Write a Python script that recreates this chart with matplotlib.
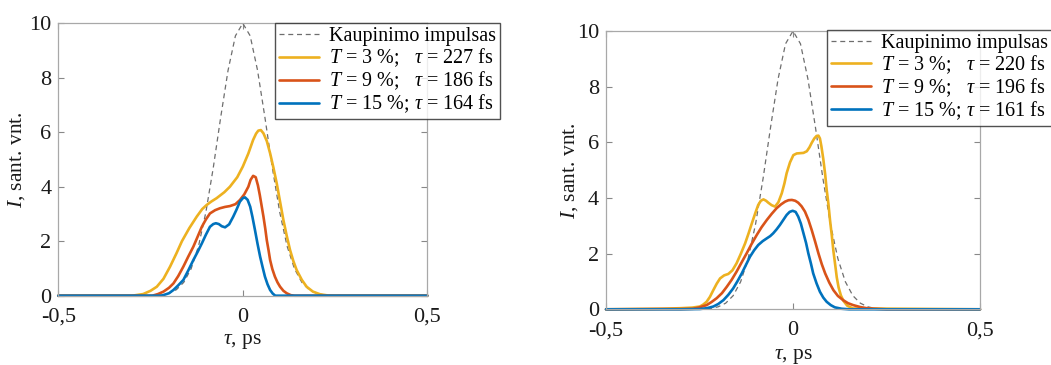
import matplotlib
matplotlib.use("Agg")
import matplotlib.pyplot as plt

plt.rcParams['font.family'] = ['Liberation Serif', 'DejaVu Serif']
plt.rcParams['mathtext.fontset'] = 'custom'
plt.rcParams['mathtext.rm'] = 'Liberation Serif'
plt.rcParams['mathtext.it'] = 'Liberation Serif:italic'

# ---------------- data ----------------
# excitation pulse (same in both panels)
x_exc = [-0.30, -0.24, -0.22, -0.20, -0.18, -0.16, -0.14, -0.12, -0.10, -0.08, -0.06, -0.04, -0.02,
         0.0, 0.02, 0.04, 0.06, 0.08, 0.10, 0.12, 0.14, 0.16, 0.18, 0.20, 0.22, 0.24, 0.30]
y_exc = [0.0, 0.01, 0.03, 0.09, 0.22, 0.49, 0.99, 1.82, 3.07, 4.70, 6.54, 8.27, 9.54,
         10.0, 9.54, 8.27, 6.54, 4.70, 3.07, 1.82, 0.99, 0.49, 0.22, 0.09, 0.03, 0.01, 0.0]

# left panel
xL_3 = [-0.50, -0.30, -0.27, -0.25, -0.233, -0.215, -0.197, -0.18, -0.165, -0.145, -0.125, -0.11,
        -0.098, -0.085, -0.071, -0.05, -0.035, -0.015, 0.0, 0.015, 0.028, 0.036, 0.042, 0.049, 0.056,
        0.065, 0.074, 0.083, 0.092, 0.101, 0.110, 0.119, 0.128, 0.137, 0.146, 0.16, 0.173, 0.19,
        0.21, 0.235, 0.50]
yL_3 = [0.0, 0.0, 0.06, 0.18, 0.33, 0.62, 1.07, 1.55, 2.0, 2.48, 2.90, 3.18,
        3.33, 3.46, 3.58, 3.80, 4.0, 4.35, 4.74, 5.22, 5.72, 5.95, 6.06, 6.08, 5.96,
        5.68, 5.23, 4.70, 4.12, 3.45, 2.78, 2.20, 1.68, 1.27, 0.94, 0.58, 0.33, 0.15,
        0.05, 0.0, 0.0]

xL_9 = [-0.50, -0.245, -0.23, -0.215, -0.20, -0.188, -0.175, -0.161, -0.148, -0.134, -0.122, -0.111,
        -0.10, -0.089, -0.075, -0.062, -0.048, -0.035, -0.02, -0.008, 0.004, 0.015, 0.021, 0.028,
        0.035, 0.041, 0.046, 0.051, 0.056, 0.061, 0.065, 0.070, 0.074, 0.080, 0.087, 0.094, 0.101,
        0.110, 0.119, 0.13, 0.14, 0.50]
yL_9 = [0.0, 0.0, 0.06, 0.15, 0.29, 0.45, 0.72, 1.07, 1.43, 1.80, 2.18, 2.53,
        2.80, 3.02, 3.14, 3.21, 3.26, 3.29, 3.36, 3.51, 3.72, 4.0, 4.25, 4.40,
        4.35, 4.05, 3.70, 3.30, 2.90, 2.45, 2.04, 1.65, 1.31, 0.98, 0.70, 0.49, 0.33,
        0.18, 0.09, 0.02, 0.0, 0.0]

xL_15 = [-0.50, -0.22, -0.20, -0.188, -0.175, -0.161, -0.148, -0.134, -0.122, -0.111, -0.10,
         -0.089, -0.08, -0.073, -0.065, -0.057, -0.048, -0.037, -0.026, -0.017, -0.008, 0.0,
         0.006, 0.013, 0.020, 0.026, 0.033, 0.040, 0.047, 0.054, 0.060, 0.067, 0.074, 0.081,
         0.088, 0.50]
yL_15 = [0.0, 0.0, 0.09, 0.21, 0.38, 0.58, 0.92, 1.31, 1.62, 1.92, 2.24,
         2.53, 2.63, 2.66, 2.63, 2.55, 2.51, 2.62, 2.90, 3.16, 3.45, 3.58,
         3.61, 3.52, 3.27, 2.90, 2.41, 1.90, 1.43, 1.03, 0.70, 0.42, 0.21, 0.08,
         0.0, 0.0]

# right panel
xR_3 = [-0.50, -0.35, -0.30, -0.27, -0.249, -0.24, -0.231, -0.222, -0.213, -0.204, -0.195, -0.184,
        -0.173, -0.162, -0.151, -0.14, -0.128, -0.119, -0.110, -0.101, -0.093, -0.086, -0.079,
        -0.072, -0.066, -0.057, -0.048, -0.039, -0.030, -0.023, -0.017, -0.008, 0.001, 0.010,
        0.019, 0.028, 0.037, 0.044, 0.050, 0.057, 0.063, 0.068, 0.072, 0.076, 0.081, 0.086, 0.090,
        0.095, 0.099, 0.104, 0.108, 0.113, 0.117, 0.122, 0.128, 0.135, 0.145, 0.16, 0.50]
yR_3 = [0.0, 0.02, 0.04, 0.06, 0.10, 0.17, 0.27, 0.45, 0.69, 0.92, 1.11, 1.22,
        1.27, 1.40, 1.65, 1.98, 2.37, 2.72, 3.09, 3.45, 3.75, 3.90, 3.95,
        3.90, 3.83, 3.74, 3.69, 3.85, 4.17, 4.52, 4.89, 5.28, 5.54, 5.60,
        5.61, 5.62, 5.68, 5.82, 5.98, 6.14, 6.23, 6.24, 6.14, 5.85, 5.40, 4.85, 4.30,
        3.75, 3.20, 2.62, 2.10, 1.58, 1.15, 0.78, 0.50, 0.30, 0.13, 0.03, 0.0]

xR_9 = [-0.50, -0.35, -0.30, -0.267, -0.25, -0.231, -0.218, -0.204, -0.19, -0.177, -0.164, -0.151,
        -0.138, -0.124, -0.111, -0.097, -0.084, -0.070, -0.057, -0.044, -0.032, -0.021, -0.012,
        -0.003, 0.006, 0.014, 0.023, 0.032, 0.041, 0.050, 0.059, 0.068, 0.077, 0.086, 0.097,
        0.108, 0.120, 0.134, 0.147, 0.161, 0.18, 0.197, 0.22, 0.25, 0.50]
yR_9 = [0.0, 0.01, 0.01, 0.02, 0.07, 0.15, 0.26, 0.40, 0.58, 0.81, 1.06, 1.35,
        1.67, 2.01, 2.34, 2.67, 2.95, 3.21, 3.43, 3.63, 3.77, 3.87, 3.92,
        3.93, 3.90, 3.83, 3.70, 3.51, 3.22, 2.85, 2.44, 2.01, 1.62, 1.29, 0.96,
        0.69, 0.48, 0.33, 0.22, 0.15, 0.08, 0.04, 0.02, 0.0, 0.0]

xR_15 = [-0.50, -0.30, -0.249, -0.23, -0.213, -0.20, -0.186, -0.173, -0.160, -0.148, -0.137,
         -0.126, -0.115, -0.104, -0.093, -0.081, -0.070, -0.061, -0.053, -0.044, -0.035, -0.026,
         -0.017, -0.009, -0.001, 0.007, 0.014, 0.021, 0.028, 0.035, 0.041, 0.048, 0.054, 0.063,
         0.072, 0.081, 0.090, 0.101, 0.112, 0.13, 0.15, 0.50]
yR_15 = [0.0, 0.0, 0.01, 0.04, 0.10, 0.19, 0.33, 0.52, 0.75, 1.02, 1.29,
         1.59, 1.89, 2.12, 2.31, 2.45, 2.55, 2.63, 2.73, 2.87, 3.03, 3.21,
         3.39, 3.50, 3.54, 3.50, 3.33, 3.08, 2.73, 2.38, 2.01, 1.64, 1.29, 0.93,
         0.63, 0.42, 0.27, 0.15, 0.07, 0.02, 0.0, 0.0]

labels_L = ['Kaupinimo impulsas',
            '$T$ = 3 %;   $\\tau$ = 227 fs',
            '$T$ = 9 %;   $\\tau$ = 186 fs',
            '$T$ = 15 %; $\\tau$ = 164 fs']
labels_R = ['Kaupinimo impulsas',
            '$T$ = 3 %;   $\\tau$ = 220 fs',
            '$T$ = 9 %;   $\\tau$ = 196 fs',
            '$T$ = 15 %; $\\tau$ = 161 fs']

x_ticks = [-0.5, 0.0, 0.5]
x_ticklabels = ['-0,5', '0', '0,5']
y_ticks = [0, 2, 4, 6, 8, 10]

# ---------------- styling ----------------
C_Y = '#EDB120'
C_O = '#D95319'
C_B = '#0072BD'
C_EXC = '#6e6e6e'
SPINE = '#a8a8a8'
LW = 1.9

W, H = 1051, 365
fig = plt.figure(figsize=(W / 100, H / 100), dpi=100)

def make_axes(rect, series, labels, leg_anchor, xlabelpad, ylabelpad):
    ax = fig.add_axes(rect)
    ax.plot(x_exc, y_exc, color=C_EXC, lw=0.9, dashes=(4, 3), label=labels[0])
    for (xs, ys), c, lab in zip(series, [C_Y, C_O, C_B], labels[1:]):
        ax.plot(xs, ys, color=c, lw=LW, label=lab, clip_on=False,
                solid_joinstyle='round', solid_capstyle='round')
    ax.set_xlim(-0.5, 0.5)
    ax.set_ylim(0, 10)
    ax.set_xticks(x_ticks)
    ax.set_xticklabels(x_ticklabels)
    ax.set_yticks(y_ticks)
    for s in ax.spines.values():
        s.set_color(SPINE)
        s.set_linewidth(0.9)
    ax.tick_params(direction='in', length=4, width=0.8, color='#888888',
                   top=True, right=True, labelsize=16, labelcolor='#1a1a1a')
    ax.tick_params(axis='x', pad=8.5)
    ax.tick_params(axis='y', pad=5)
    for t in ax.get_yticklabels():
        t.set_verticalalignment('center_baseline')
    ax.set_xlabel('$\\tau$, ps', fontsize=15.5, color='#1a1a1a', labelpad=xlabelpad)
    ax.set_ylabel('$I$, sant. vnt.', fontsize=15.5, color='#1a1a1a', labelpad=ylabelpad)
    leg = ax.legend(loc='upper left', bbox_to_anchor=leg_anchor, borderaxespad=0,
                    fontsize=14.5, frameon=True, fancybox=False, handlelength=2.0,
                    handletextpad=0.5, labelspacing=0.02, borderpad=0.2)
    leg.get_frame().set_edgecolor('#262626')
    leg.get_frame().set_linewidth(1.0)
    leg.set_clip_on(False)
    return ax

axL = make_axes([58.3 / W, (H - 295.7) / H, 369 / W, 272.4 / H],
                [(xL_3, yL_3), (xL_9, yL_9), (xL_15, yL_15)], labels_L, (0.587, 1.0), 4, 1.5)
axR = make_axes([606 / W, (H - 309.3) / H, 374 / W, 278.3 / H],
                [(xR_3, yR_3), (xR_9, yR_9), (xR_15, yR_15)], labels_R, (0.591, 1.004), 5, -2)

fig.savefig('out.png', dpi=100)
